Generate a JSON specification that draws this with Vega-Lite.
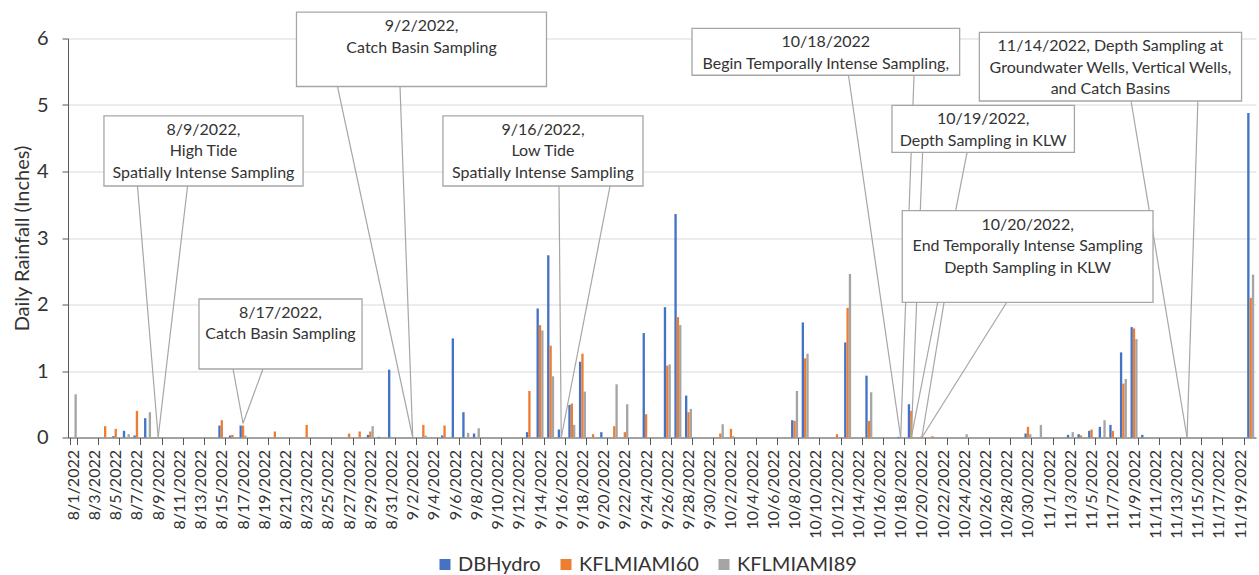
{
  "$schema": "https://vega.github.io/schema/vega-lite/v6.json",
  "width": 1188,
  "height": 399,
  "autosize": {"type": "none"},
  "padding": {"left": 68, "top": 38.5, "right": 3, "bottom": 137.5},
  "config": {"font": "Lato", "view": {"stroke": null}},
  "datasets": {
    "bars": [
      {"d": "8/1/2022", "s": "KFLMIAMI89", "v": 0.65},
      {"d": "8/4/2022", "s": "KFLMIAMI60", "v": 0.17},
      {"d": "8/5/2022", "s": "DBHydro", "v": 0.02},
      {"d": "8/5/2022", "s": "KFLMIAMI60", "v": 0.13},
      {"d": "8/6/2022", "s": "DBHydro", "v": 0.10},
      {"d": "8/6/2022", "s": "KFLMIAMI89", "v": 0.05},
      {"d": "8/7/2022", "s": "DBHydro", "v": 0.03},
      {"d": "8/7/2022", "s": "KFLMIAMI60", "v": 0.40},
      {"d": "8/8/2022", "s": "DBHydro", "v": 0.29},
      {"d": "8/8/2022", "s": "KFLMIAMI89", "v": 0.38},
      {"d": "8/15/2022", "s": "DBHydro", "v": 0.18},
      {"d": "8/15/2022", "s": "KFLMIAMI60", "v": 0.26},
      {"d": "8/16/2022", "s": "DBHydro", "v": 0.03},
      {"d": "8/16/2022", "s": "KFLMIAMI60", "v": 0.04},
      {"d": "8/17/2022", "s": "DBHydro", "v": 0.18},
      {"d": "8/17/2022", "s": "KFLMIAMI60", "v": 0.18},
      {"d": "8/17/2022", "s": "KFLMIAMI89", "v": 0.03},
      {"d": "8/20/2022", "s": "KFLMIAMI60", "v": 0.09},
      {"d": "8/23/2022", "s": "KFLMIAMI60", "v": 0.19},
      {"d": "8/27/2022", "s": "KFLMIAMI60", "v": 0.06},
      {"d": "8/28/2022", "s": "KFLMIAMI60", "v": 0.09},
      {"d": "8/29/2022", "s": "DBHydro", "v": 0.04},
      {"d": "8/29/2022", "s": "KFLMIAMI60", "v": 0.09},
      {"d": "8/29/2022", "s": "KFLMIAMI89", "v": 0.17},
      {"d": "8/30/2022", "s": "DBHydro", "v": 0.01},
      {"d": "8/31/2022", "s": "DBHydro", "v": 1.02},
      {"d": "9/3/2022", "s": "KFLMIAMI60", "v": 0.19},
      {"d": "9/3/2022", "s": "KFLMIAMI89", "v": 0.03},
      {"d": "9/5/2022", "s": "DBHydro", "v": 0.03},
      {"d": "9/5/2022", "s": "KFLMIAMI60", "v": 0.18},
      {"d": "9/6/2022", "s": "DBHydro", "v": 1.49},
      {"d": "9/7/2022", "s": "DBHydro", "v": 0.38},
      {"d": "9/7/2022", "s": "KFLMIAMI89", "v": 0.07},
      {"d": "9/8/2022", "s": "DBHydro", "v": 0.06},
      {"d": "9/8/2022", "s": "KFLMIAMI89", "v": 0.14},
      {"d": "9/13/2022", "s": "DBHydro", "v": 0.08},
      {"d": "9/13/2022", "s": "KFLMIAMI60", "v": 0.70},
      {"d": "9/14/2022", "s": "DBHydro", "v": 1.94},
      {"d": "9/14/2022", "s": "KFLMIAMI60", "v": 1.69},
      {"d": "9/14/2022", "s": "KFLMIAMI89", "v": 1.61},
      {"d": "9/15/2022", "s": "DBHydro", "v": 2.74},
      {"d": "9/15/2022", "s": "KFLMIAMI60", "v": 1.38},
      {"d": "9/15/2022", "s": "KFLMIAMI89", "v": 0.92},
      {"d": "9/16/2022", "s": "DBHydro", "v": 0.12},
      {"d": "9/17/2022", "s": "DBHydro", "v": 0.49},
      {"d": "9/17/2022", "s": "KFLMIAMI60", "v": 0.51},
      {"d": "9/17/2022", "s": "KFLMIAMI89", "v": 0.19},
      {"d": "9/18/2022", "s": "DBHydro", "v": 1.14},
      {"d": "9/18/2022", "s": "KFLMIAMI60", "v": 1.26},
      {"d": "9/18/2022", "s": "KFLMIAMI89", "v": 0.69},
      {"d": "9/19/2022", "s": "KFLMIAMI60", "v": 0.05},
      {"d": "9/20/2022", "s": "DBHydro", "v": 0.08},
      {"d": "9/21/2022", "s": "KFLMIAMI60", "v": 0.17},
      {"d": "9/21/2022", "s": "KFLMIAMI89", "v": 0.80},
      {"d": "9/22/2022", "s": "KFLMIAMI60", "v": 0.08},
      {"d": "9/22/2022", "s": "KFLMIAMI89", "v": 0.50},
      {"d": "9/24/2022", "s": "DBHydro", "v": 1.57},
      {"d": "9/24/2022", "s": "KFLMIAMI60", "v": 0.35},
      {"d": "9/26/2022", "s": "DBHydro", "v": 1.96},
      {"d": "9/26/2022", "s": "KFLMIAMI60", "v": 1.08},
      {"d": "9/26/2022", "s": "KFLMIAMI89", "v": 1.10},
      {"d": "9/27/2022", "s": "DBHydro", "v": 3.36},
      {"d": "9/27/2022", "s": "KFLMIAMI60", "v": 1.81},
      {"d": "9/27/2022", "s": "KFLMIAMI89", "v": 1.69},
      {"d": "9/28/2022", "s": "DBHydro", "v": 0.63},
      {"d": "9/28/2022", "s": "KFLMIAMI60", "v": 0.38},
      {"d": "9/28/2022", "s": "KFLMIAMI89", "v": 0.43},
      {"d": "10/1/2022", "s": "KFLMIAMI60", "v": 0.06},
      {"d": "10/1/2022", "s": "KFLMIAMI89", "v": 0.20},
      {"d": "10/2/2022", "s": "KFLMIAMI60", "v": 0.13},
      {"d": "10/2/2022", "s": "KFLMIAMI89", "v": 0.02},
      {"d": "10/8/2022", "s": "DBHydro", "v": 0.26},
      {"d": "10/8/2022", "s": "KFLMIAMI60", "v": 0.25},
      {"d": "10/8/2022", "s": "KFLMIAMI89", "v": 0.70},
      {"d": "10/9/2022", "s": "DBHydro", "v": 1.73},
      {"d": "10/9/2022", "s": "KFLMIAMI60", "v": 1.19},
      {"d": "10/9/2022", "s": "KFLMIAMI89", "v": 1.26},
      {"d": "10/12/2022", "s": "KFLMIAMI60", "v": 0.05},
      {"d": "10/13/2022", "s": "DBHydro", "v": 1.43},
      {"d": "10/13/2022", "s": "KFLMIAMI60", "v": 1.95},
      {"d": "10/13/2022", "s": "KFLMIAMI89", "v": 2.46},
      {"d": "10/15/2022", "s": "DBHydro", "v": 0.93},
      {"d": "10/15/2022", "s": "KFLMIAMI60", "v": 0.25},
      {"d": "10/15/2022", "s": "KFLMIAMI89", "v": 0.68},
      {"d": "10/18/2022", "s": "DBHydro", "v": 0.01},
      {"d": "10/19/2022", "s": "DBHydro", "v": 0.50},
      {"d": "10/19/2022", "s": "KFLMIAMI60", "v": 0.40},
      {"d": "10/20/2022", "s": "KFLMIAMI60", "v": 0.02},
      {"d": "10/21/2022", "s": "KFLMIAMI60", "v": 0.02},
      {"d": "10/24/2022", "s": "KFLMIAMI89", "v": 0.05},
      {"d": "10/30/2022", "s": "DBHydro", "v": 0.06},
      {"d": "10/30/2022", "s": "KFLMIAMI60", "v": 0.16},
      {"d": "10/30/2022", "s": "KFLMIAMI89", "v": 0.05},
      {"d": "10/31/2022", "s": "KFLMIAMI89", "v": 0.19},
      {"d": "11/3/2022", "s": "DBHydro", "v": 0.04},
      {"d": "11/3/2022", "s": "KFLMIAMI89", "v": 0.08},
      {"d": "11/4/2022", "s": "DBHydro", "v": 0.05},
      {"d": "11/4/2022", "s": "KFLMIAMI60", "v": 0.03},
      {"d": "11/5/2022", "s": "DBHydro", "v": 0.10},
      {"d": "11/5/2022", "s": "KFLMIAMI60", "v": 0.12},
      {"d": "11/6/2022", "s": "DBHydro", "v": 0.16},
      {"d": "11/6/2022", "s": "KFLMIAMI89", "v": 0.26},
      {"d": "11/7/2022", "s": "DBHydro", "v": 0.19},
      {"d": "11/7/2022", "s": "KFLMIAMI60", "v": 0.10},
      {"d": "11/8/2022", "s": "DBHydro", "v": 1.28},
      {"d": "11/8/2022", "s": "KFLMIAMI60", "v": 0.81},
      {"d": "11/8/2022", "s": "KFLMIAMI89", "v": 0.88},
      {"d": "11/9/2022", "s": "DBHydro", "v": 1.66},
      {"d": "11/9/2022", "s": "KFLMIAMI60", "v": 1.64},
      {"d": "11/9/2022", "s": "KFLMIAMI89", "v": 1.48},
      {"d": "11/10/2022", "s": "DBHydro", "v": 0.04},
      {"d": "11/20/2022", "s": "DBHydro", "v": 4.88},
      {"d": "11/20/2022", "s": "KFLMIAMI60", "v": 2.10},
      {"d": "11/20/2022", "s": "KFLMIAMI89", "v": 2.45}
    ],
    "boxes": [
      {"x1": 3.39, "x2": 22.16, "ytop": 4.835, "ybot": 3.782, "xc": 12.77, "label": "8/9/2022,\nHigh Tide\nSpatially Intense Sampling"},
      {"x1": 12.35, "x2": 27.72, "ytop": 2.083, "ybot": 1.030, "xc": 20.03, "label": "8/17/2022,\nCatch Basin Sampling"},
      {"x1": 21.54, "x2": 45.11, "ytop": 6.398, "ybot": 5.278, "xc": 33.33, "label": "9/2/2022,\nCatch Basin Sampling"},
      {"x1": 35.35, "x2": 54.21, "ytop": 4.835, "ybot": 3.782, "xc": 44.78, "label": "9/16/2022,\nLow Tide\nSpatially Intense Sampling"},
      {"x1": 58.83, "x2": 84.06, "ytop": 6.153, "ybot": 5.447, "xc": 71.44, "label": "10/18/2022\nBegin Temporally Intense Sampling,"},
      {"x1": 77.68, "x2": 94.88, "ytop": 4.995, "ybot": 4.289, "xc": 86.28, "label": "10/19/2022,\nDepth Sampling in KLW"},
      {"x1": 78.65, "x2": 102.29, "ytop": 3.411, "ybot": 2.033, "xc": 90.47, "label": "10/20/2022,\nEnd Temporally Intense Sampling\nDepth Sampling in KLW"},
      {"x1": 85.92, "x2": 110.64, "ytop": 6.093, "ybot": 5.060, "xc": 98.28, "label": "11/14/2022, Depth Sampling at\nGroundwater Wells, Vertical Wells,\nand Catch Basins"}
    ],
    "leaders": [
      {"x1": 6.55, "y1": 3.782, "x2": 8.5, "y2": 0},
      {"x1": 11.27, "y1": 3.782, "x2": 8.5, "y2": 0},
      {"x1": 15.56, "y1": 1.030, "x2": 16.5, "y2": 0.214},
      {"x1": 18.38, "y1": 1.030, "x2": 16.5, "y2": 0.214},
      {"x1": 25.41, "y1": 5.278, "x2": 32.5, "y2": 0},
      {"x1": 31.30, "y1": 5.278, "x2": 32.5, "y2": 0},
      {"x1": 46.29, "y1": 3.782, "x2": 46.5, "y2": 0},
      {"x1": 51.10, "y1": 3.782, "x2": 46.5, "y2": 0},
      {"x1": 73.58, "y1": 5.447, "x2": 78.5, "y2": 0},
      {"x1": 79.76, "y1": 5.447, "x2": 78.5, "y2": 0},
      {"x1": 80.57, "y1": 4.289, "x2": 79.5, "y2": 0},
      {"x1": 84.76, "y1": 4.289, "x2": 79.5, "y2": 0},
      {"x1": 82.59, "y1": 2.033, "x2": 80.5, "y2": 0},
      {"x1": 88.50, "y1": 2.033, "x2": 80.5, "y2": 0},
      {"x1": 100.22, "y1": 5.060, "x2": 105.5, "y2": 0},
      {"x1": 106.52, "y1": 5.060, "x2": 105.5, "y2": 0}
    ]
  },
  "layer": [
    {
      "data": {"name": "bars"},
      "mark": {"type": "bar"},
      "encoding": {
        "x": {
          "field": "d",
          "type": "ordinal",
          "sort": null,
          "scale": {
            "domain": ["8/1/2022","8/2/2022","8/3/2022","8/4/2022","8/5/2022","8/6/2022","8/7/2022","8/8/2022","8/9/2022","8/10/2022","8/11/2022","8/12/2022","8/13/2022","8/14/2022","8/15/2022","8/16/2022","8/17/2022","8/18/2022","8/19/2022","8/20/2022","8/21/2022","8/22/2022","8/23/2022","8/24/2022","8/25/2022","8/26/2022","8/27/2022","8/28/2022","8/29/2022","8/30/2022","8/31/2022",
              "9/1/2022","9/2/2022","9/3/2022","9/4/2022","9/5/2022","9/6/2022","9/7/2022","9/8/2022","9/9/2022","9/10/2022","9/11/2022","9/12/2022","9/13/2022","9/14/2022","9/15/2022","9/16/2022","9/17/2022","9/18/2022","9/19/2022","9/20/2022","9/21/2022","9/22/2022","9/23/2022","9/24/2022","9/25/2022","9/26/2022","9/27/2022","9/28/2022","9/29/2022","9/30/2022",
              "10/1/2022","10/2/2022","10/3/2022","10/4/2022","10/5/2022","10/6/2022","10/7/2022","10/8/2022","10/9/2022","10/10/2022","10/11/2022","10/12/2022","10/13/2022","10/14/2022","10/15/2022","10/16/2022","10/17/2022","10/18/2022","10/19/2022","10/20/2022","10/21/2022","10/22/2022","10/23/2022","10/24/2022","10/25/2022","10/26/2022","10/27/2022","10/28/2022","10/29/2022","10/30/2022","10/31/2022",
              "11/1/2022","11/2/2022","11/3/2022","11/4/2022","11/5/2022","11/6/2022","11/7/2022","11/8/2022","11/9/2022","11/10/2022","11/11/2022","11/12/2022","11/13/2022","11/14/2022","11/15/2022","11/16/2022","11/17/2022","11/18/2022","11/19/2022","11/20/2022"],
            "paddingInner": 0.34,
            "paddingOuter": 0.17
          },
          "axis": {
            "values": ["8/1/2022","8/3/2022","8/5/2022","8/7/2022","8/9/2022","8/11/2022","8/13/2022","8/15/2022","8/17/2022","8/19/2022","8/21/2022","8/23/2022","8/25/2022","8/27/2022","8/29/2022","8/31/2022",
              "9/2/2022","9/4/2022","9/6/2022","9/8/2022","9/10/2022","9/12/2022","9/14/2022","9/16/2022","9/18/2022","9/20/2022","9/22/2022","9/24/2022","9/26/2022","9/28/2022","9/30/2022",
              "10/2/2022","10/4/2022","10/6/2022","10/8/2022","10/10/2022","10/12/2022","10/14/2022","10/16/2022","10/18/2022","10/20/2022","10/22/2022","10/24/2022","10/26/2022","10/28/2022","10/30/2022",
              "11/1/2022","11/3/2022","11/5/2022","11/7/2022","11/9/2022","11/11/2022","11/13/2022","11/15/2022","11/17/2022","11/19/2022"],
            "title": null,
            "labelAngle": -90,
            "labelFontSize": 16,
            "labelColor": "#333333",
            "labelPadding": 5,
            "labelOverlap": false,
            "tickSize": 7,
            "tickColor": "#595959",
            "tickBand": "extent",
            "domainColor": "#595959",
            "grid": false
          }
        },
        "xOffset": {
          "field": "s",
          "type": "nominal",
          "scale": {"domain": ["DBHydro", "KFLMIAMI60", "KFLMIAMI89"], "paddingInner": 0, "paddingOuter": 0}
        },
        "y": {
          "field": "v",
          "type": "quantitative",
          "scale": {"domain": [0, 6], "nice": false},
          "axis": {
            "values": [0, 1, 2, 3, 4, 5, 6],
            "title": "Daily Rainfall (Inches)",
            "titleFontSize": 20,
            "titleFontWeight": "normal",
            "titleColor": "#333333",
            "titlePadding": 4,
            "labelFontSize": 20,
            "labelColor": "#333333",
            "labelPadding": 14,
            "tickSize": 6,
            "tickColor": "#595959",
            "domainColor": "#595959",
            "gridColor": "#D9D9D9",
            "grid": true
          }
        },
        "color": {
          "field": "s",
          "type": "nominal",
          "scale": {"domain": ["DBHydro", "KFLMIAMI60", "KFLMIAMI89"], "range": ["#4472C4", "#ED7D31", "#A5A5A5"]},
          "legend": {
            "orient": "none",
            "legendX": 367,
            "legendY": 516,
            "direction": "horizontal",
            "title": null,
            "labelFontSize": 20,
            "labelColor": "#333333",
            "symbolType": "square",
            "symbolSize": 121,
            "symbolStrokeWidth": 0,
            "labelOffset": 3,
            "columnPadding": 15
          }
        }
      }
    },
    {
      "layer": [
        {
          "data": {"name": "leaders"},
          "mark": {"type": "rule", "color": "#A6A6A6", "strokeWidth": 1.2},
          "encoding": {
            "x": {"field": "x1", "type": "quantitative", "scale": {"domain": [0, 112], "nice": false, "zero": false}, "axis": null},
            "x2": {"field": "x2"},
            "y": {"field": "y1", "type": "quantitative", "scale": {"domain": [0, 6], "nice": false}, "axis": null},
            "y2": {"field": "y2"}
          }
        },
        {
          "data": {"name": "boxes"},
          "mark": {"type": "rect", "fill": "#FFFFFF", "stroke": "#A6A6A6", "strokeWidth": 1.3},
          "encoding": {
            "x": {"field": "x1", "type": "quantitative", "scale": {"domain": [0, 112], "nice": false, "zero": false}, "axis": null},
            "x2": {"field": "x2"},
            "y": {"field": "ytop", "type": "quantitative", "scale": {"domain": [0, 6], "nice": false}, "axis": null},
            "y2": {"field": "ybot"}
          }
        },
        {
          "data": {"name": "boxes"},
          "mark": {"type": "text", "align": "center", "baseline": "top", "dy": 6, "fontSize": 16, "lineHeight": 21.5, "lineBreak": "\n", "color": "#333333"},
          "encoding": {
            "x": {"field": "xc", "type": "quantitative", "scale": {"domain": [0, 112], "nice": false, "zero": false}, "axis": null},
            "y": {"field": "ytop", "type": "quantitative", "scale": {"domain": [0, 6], "nice": false}, "axis": null},
            "text": {"field": "label"}
          }
        }
      ]
    }
  ],
  "resolve": {"scale": {"x": "independent", "y": "independent"}, "axis": {"x": "independent", "y": "independent"}}
}
